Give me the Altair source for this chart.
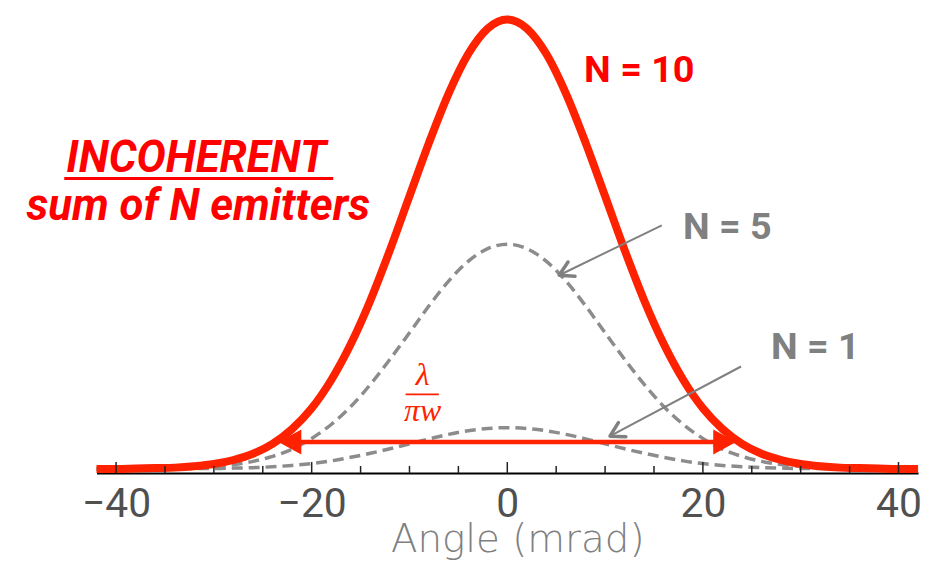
import altair as alt
import pandas as pd

# ---------------- data ----------------
angle = [-42, -40, -38, -36, -34, -32, -30, -28, -26, -24, -22, -20, -18, -16, -14, -12, -10, -8, -6, -4, -2,
         0, 2, 4, 6, 8, 10, 12, 14, 16, 18, 20, 22, 24, 26, 28, 30, 32, 34, 36, 38, 40, 42]
i10 = [0.0, 0.0, 0.01, 0.02, 0.03, 0.06, 0.11, 0.20, 0.34, 0.56, 0.89, 1.35, 1.98, 2.78, 3.75, 4.87, 6.07, 7.26, 8.35, 9.23, 9.80,
       10.0, 9.80, 9.23, 8.35, 7.26, 6.07, 4.87, 3.75, 2.78, 1.98, 1.35, 0.89, 0.56, 0.34, 0.20, 0.11, 0.06, 0.03, 0.02, 0.01, 0.0, 0.0]
i5 = [0.0, 0.0, 0.0, 0.01, 0.02, 0.03, 0.06, 0.10, 0.17, 0.28, 0.44, 0.68, 0.99, 1.39, 1.88, 2.44, 3.03, 3.63, 4.18, 4.62, 4.90,
      5.0, 4.90, 4.62, 4.18, 3.63, 3.03, 2.44, 1.88, 1.39, 0.99, 0.68, 0.44, 0.28, 0.17, 0.10, 0.06, 0.03, 0.02, 0.01, 0.0, 0.0, 0.0]
i1 = [0.0, 0.0, 0.0, 0.0, 0.0, 0.01, 0.01, 0.02, 0.03, 0.05, 0.08, 0.12, 0.18, 0.26, 0.35, 0.45, 0.56, 0.67, 0.77, 0.85, 0.90,
      0.92, 0.90, 0.85, 0.77, 0.67, 0.56, 0.45, 0.35, 0.26, 0.18, 0.12, 0.08, 0.05, 0.03, 0.02, 0.01, 0.01, 0.0, 0.0, 0.0, 0.0, 0.0]

tick_labels = [-40, -20, 0, 20, 40]
minor_ticks = [-35, -30, -25, -15, -10, -5, 5, 10, 15, 25, 30, 35]
major_ticks = [-40, -20, 0, 20, 40]

# red width arrow (lambda / pi w)
width_arrow_x = [-21.5, 21.5]
width_arrow_y = [0.60, 0.60]
head_x = [-23.4, 23.4]
head_y = [0.60, 0.60]
head_angle = [180, 0]

# grey pointer arrows (N = 5, N = 1)
ptr_x = [15.8, 23.9]
ptr_y = [5.42, 2.28]
ptr_tip_x = [5.3, 10.5]
ptr_tip_y = [4.31, 0.73]
ptr_angle = [154, 152]

# text labels
red_labels = ["N = 10"]
red_label_x = [13.5]
red_label_y = [8.85]
grey_labels = ["N = 5", "N = 1"]
grey_label_x = [22.5, 31.5]
grey_label_y = [5.35, 2.70]
side_labels = ["INCOHERENT", "sum of N emitters"]
side_label_x = [-31.8, -31.6]
side_label_y = [6.90, 5.82]
underline_x = [-45.3]
underline_x2 = [-17.8]
underline_y = [6.46]
frac_num = ["λ"]
frac_den = ["πw"]
frac_x = [-8.65]
frac_num_y = [2.10]
frac_den_y = [1.28]
frac_bar_x = [-10.4]
frac_bar_x2 = [-7.0]
frac_bar_y = [1.66]

# ---------------- styling ----------------
RED = "#ff2200"
TXT_RED = "#ff0000"
GREY = "#808080"
DASH_GREY = "#8c8c8c"
YMAX = 10.177

xs = alt.Scale(domain=[-42, 42], nice=False)
ys = alt.Scale(domain=[0, YMAX], nice=False, zero=False)

curves = pd.DataFrame({"angle": angle * 2, "I": i5 + i1, "series": ["N=5"] * len(angle) + ["N=1"] * len(angle)})
red_df = pd.DataFrame({"angle": angle, "I": i10})

dashed = alt.Chart(curves).mark_line(
    color=DASH_GREY, strokeWidth=3.5, strokeDash=[11, 6], interpolate="monotone"
).encode(
    x=alt.X("angle:Q", scale=xs, axis=alt.Axis(
        values=tick_labels, ticks=False, grid=False, domain=True, domainColor="#000000", domainWidth=2,
        labelFont="Roboto", labelFontSize=41, labelColor="#505050", labelPadding=12, labelFlush=False,
        title="Angle (mrad)", titleFont="DejaVu Sans", titleFontSize=39, titleFontWeight=300,
        titleColor=GREY, titleX=423, titleY=79, titleBaseline="alphabetic", titleAlign="center",
        offset=4)),
    y=alt.Y("I:Q", scale=ys, axis=None),
    detail="series:N",
)

red = alt.Chart(red_df).mark_line(color=RED, strokeWidth=8, interpolate="monotone").encode(
    x=alt.X("angle:Q", scale=xs), y=alt.Y("I:Q", scale=ys)
)

ticks_major = alt.Chart(pd.DataFrame({"t": major_ticks})).mark_rule(color="#222222", strokeWidth=1.5).encode(
    x=alt.X("t:Q", scale=xs), y=alt.value(464), y2=alt.value(453)
)
ticks_minor = alt.Chart(pd.DataFrame({"t": minor_ticks})).mark_rule(color="#222222", strokeWidth=1.5).encode(
    x=alt.X("t:Q", scale=xs), y=alt.value(464), y2=alt.value(457)
)

arrow_line = alt.Chart(pd.DataFrame({"x": [width_arrow_x[0]], "x2": [width_arrow_x[1]], "y": [width_arrow_y[0]]})).mark_rule(
    color=RED, strokeWidth=4.5
).encode(x=alt.X("x:Q", scale=xs), x2="x2:Q", y=alt.Y("y:Q", scale=ys))

heads = alt.Chart(pd.DataFrame({"x": head_x, "y": head_y, "a": head_angle})).mark_point(
    shape="M0,0L-1.84,-1L-1.84,1Z", filled=True, size=625, color=RED, opacity=1, strokeWidth=0
).encode(x=alt.X("x:Q", scale=xs), y=alt.Y("y:Q", scale=ys), angle=alt.Angle("a:Q", scale=None))

ptr_df = pd.DataFrame({"x": ptr_x, "y": ptr_y, "x2": ptr_tip_x, "y2": ptr_tip_y, "a": ptr_angle})
ptr_lines = alt.Chart(ptr_df).mark_rule(color=GREY, strokeWidth=2).encode(
    x=alt.X("x:Q", scale=xs), y=alt.Y("y:Q", scale=ys), x2="x2:Q", y2="y2:Q"
)
ptr_heads = alt.Chart(ptr_df).mark_point(
    shape="M-1.732,-1L0,0L-1.732,1", filled=False, size=256, color=GREY, opacity=1, strokeWidth=3.5,
    strokeCap="round", strokeJoin="round"
).encode(x=alt.X("x2:Q", scale=xs), y=alt.Y("y2:Q", scale=ys), angle=alt.Angle("a:Q", scale=None))

red_txt = alt.Chart(pd.DataFrame({"x": red_label_x, "y": red_label_y, "t": red_labels})).mark_text(
    font="Roboto", fontSize=38, fontWeight="bold", color=TXT_RED, align="center", baseline="middle"
).encode(x=alt.X("x:Q", scale=xs), y=alt.Y("y:Q", scale=ys), text="t:N")

grey_txt = alt.Chart(pd.DataFrame({"x": grey_label_x, "y": grey_label_y, "t": grey_labels})).mark_text(
    font="Roboto", fontSize=38, fontWeight="bold", color=GREY, align="center", baseline="middle"
).encode(x=alt.X("x:Q", scale=xs), y=alt.Y("y:Q", scale=ys), text="t:N")

side_txt = alt.Chart(pd.DataFrame({"x": side_label_x, "y": side_label_y, "t": side_labels})).mark_text(
    font="Roboto", fontSize=44, fontWeight="bold", fontStyle="italic", color=TXT_RED, align="center", baseline="middle"
).encode(x=alt.X("x:Q", scale=xs), y=alt.Y("y:Q", scale=ys), text="t:N")

underline = alt.Chart(pd.DataFrame({"x": underline_x, "x2": underline_x2, "y": underline_y})).mark_rule(
    color=TXT_RED, strokeWidth=3
).encode(x=alt.X("x:Q", scale=xs), x2="x2:Q", y=alt.Y("y:Q", scale=ys))

num_txt = alt.Chart(pd.DataFrame({"x": frac_x, "y": frac_num_y, "t": frac_num})).mark_text(
    font="Liberation Serif", fontSize=32, fontStyle="italic", color=RED, align="center", baseline="middle"
).encode(x=alt.X("x:Q", scale=xs), y=alt.Y("y:Q", scale=ys), text="t:N")
den_txt = alt.Chart(pd.DataFrame({"x": frac_x, "y": frac_den_y, "t": frac_den})).mark_text(
    font="Liberation Serif", fontSize=32, fontStyle="italic", color=RED, align="center", baseline="middle"
).encode(x=alt.X("x:Q", scale=xs), y=alt.Y("y:Q", scale=ys), text="t:N")
frac_bar = alt.Chart(pd.DataFrame({"x": frac_bar_x, "x2": frac_bar_x2, "y": frac_bar_y})).mark_rule(
    color=RED, strokeWidth=2
).encode(x=alt.X("x:Q", scale=xs), x2="x2:Q", y=alt.Y("y:Q", scale=ys))

chart = alt.layer(
    dashed, red, ticks_major, ticks_minor, arrow_line, heads, ptr_lines, ptr_heads,
    red_txt, grey_txt, side_txt, underline, num_txt, den_txt, frac_bar
).properties(
    width=826, height=460,
    autosize=alt.AutoSizeParams(type="none"),
    padding={"left": 89, "top": 2, "right": 10, "bottom": 91},
    background="white",
).configure_view(stroke=None)

chart.save("out.html", embed_options={"renderer": "svg", "actions": False})
